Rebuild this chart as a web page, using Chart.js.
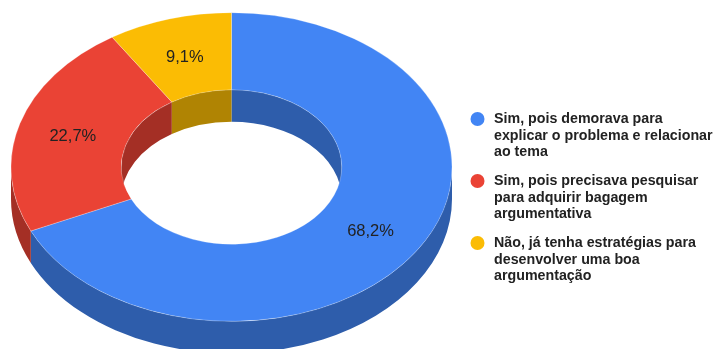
<!DOCTYPE html>
<html lang="pt">
<head>
<meta charset="utf-8">
<script src="https://cdn.jsdelivr.net/npm/chart.js@4"></script>
<style>
    html, body { margin: 0; padding: 0; background: #fff; overflow: hidden; }
    #wrap { width: 713px; height: 349px; }
</style>
</head>
<body>
<div id="wrap"><canvas id="chart" width="713" height="349"></canvas></div>
<script>
const categories = [
    ['Sim, pois demorava para', 'explicar o problema e relacionar', 'ao tema'],
    ['Sim, pois precisava pesquisar', 'para adquirir bagagem', 'argumentativa'],
    ['Não, já tenha estratégias para', 'desenvolver uma boa', 'argumentação']
];
const values = [68.2, 22.7, 9.1];
const colors = ['#4285f4', '#ea4335', '#fbbc04'];
const wallColors = ['#2e5dab', '#a42f25', '#b08403'];

// the ring is drawn round, then squashed to look tilted
const squash = 0.7;
const depth = 32;

const tilt = (ctx, arc) => {
    ctx.translate(arc.x, arc.y);
    ctx.scale(1, squash);
    ctx.translate(-arc.x, -arc.y);
};

// band between a rim and the same rim pushed down, limited to the angles lo..hi
const wall = (ctx, arc, radius, lo, hi, color) => {
    const from = Math.max(arc.startAngle, lo);
    const to = Math.min(arc.endAngle, hi);
    if (from >= to) {
        return;
    }
    ctx.beginPath();
    ctx.arc(arc.x, arc.y, radius, from, to);
    ctx.arc(arc.x, arc.y + depth / squash, radius, to, from, true);
    ctx.closePath();
    ctx.fillStyle = color;
    ctx.fill();
};

const ring3d = {
    id: 'ring3d',
    beforeDatasetsDraw(chart) {
        const ctx = chart.ctx;
        const arcs = chart.getDatasetMeta(0).data;
        ctx.save();
        tilt(ctx, arcs[0]);
        arcs.forEach((arc, i) => {
            // outer side shows on the front half, hole side on the back half
            wall(ctx, arc, arc.outerRadius, 0, Math.PI, wallColors[i]);
            wall(ctx, arc, arc.innerRadius, -Math.PI, 0, wallColors[i]);
            wall(ctx, arc, arc.innerRadius, Math.PI, Math.PI * 2, wallColors[i]);
        });
    },
    afterDatasetsDraw(chart) {
        const ctx = chart.ctx;
        ctx.restore();
        const arcs = chart.getDatasetMeta(0).data;

        // value labels
        ctx.save();
        ctx.font = '16.5px "Liberation Sans"';
        ctx.fillStyle = '#222';
        ctx.textAlign = 'center';
        ctx.textBaseline = 'middle';
        arcs.forEach((arc, i) => {
            const p = arc.getCenterPoint();
            const text = values[i].toFixed(1).replace('.', ',') + '%';
            ctx.fillText(text, p.x, arc.y + (p.y - arc.y) * squash + 2);
        });
        ctx.restore();

        // legend on the right
        ctx.save();
        ctx.font = 'bold 14.25px "Liberation Sans"';
        ctx.textBaseline = 'middle';
        categories.forEach((lines, i) => {
            const top = 119 + i * 62;
            ctx.beginPath();
            ctx.arc(477.5, top, 7, 0, Math.PI * 2);
            ctx.fillStyle = colors[i];
            ctx.fill();
            ctx.fillStyle = '#222';
            lines.forEach((line, j) => {
                ctx.fillText(line, 494, top + 0.5 + j * 16.5);
            });
        });
        ctx.restore();
    }
};

new Chart(document.getElementById('chart'), {
    type: 'doughnut',
    data: {
        labels: categories,
        datasets: [{
            data: values,
            backgroundColor: colors,
            borderColor: 'rgba(255,255,255,0.6)',
            borderWidth: 0.5,
            radius: 220.5,
            cutout: '50%',
            clip: false
        }]
    },
    options: {
        responsive: false,
        animation: false,
        layout: { padding: { left: 0, right: 250, top: 0, bottom: 15 } },
        plugins: {
            legend: { display: false },
            tooltip: { enabled: false }
        }
    },
    plugins: [ring3d]
});
</script>
</body>
</html>
